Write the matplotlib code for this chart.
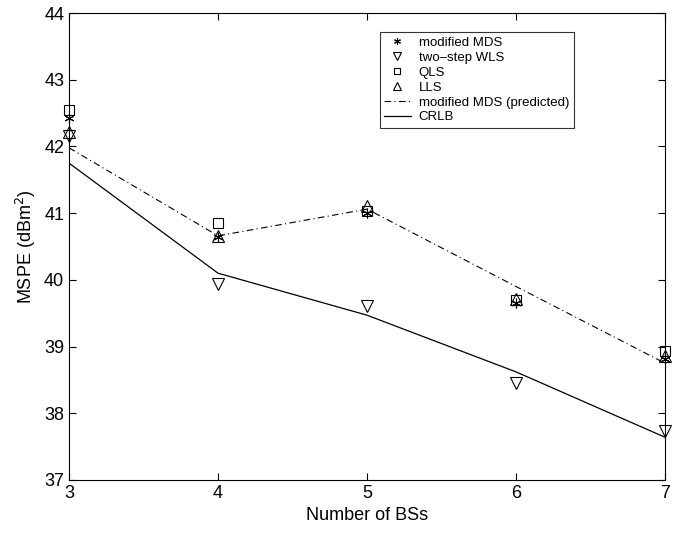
import matplotlib
matplotlib.use("Agg")
import matplotlib.pyplot as plt

plt.rcParams["font.family"] = ["Liberation Sans", "DejaVu Sans"]

# ── Data ─────────────────────────────────────────────
n_bs = [3, 4, 5, 6, 7]
mds = [42.42, 40.65, 41.00, 39.65, 38.82]
wls = [42.15, 39.94, 39.61, 38.46, 37.73]
qls = [42.54, 40.85, 41.03, 39.70, 38.93]
lls = [42.22, 40.66, 41.11, 39.72, 38.86]
mds_pred = [41.98, 40.66, 41.06, 39.90, 38.75]
crlb = [41.75, 40.10, 39.47, 38.62, 37.64]

fig = plt.figure(figsize=(6.95, 5.36), dpi=100)
ax = fig.add_axes([0.0993, 0.1045, 0.8577, 0.8712])

mk = dict(linestyle="none", mec="black", mew=0.8, clip_on=False, zorder=3)
ax.plot(n_bs, mds, marker=(6, 2, 0), ms=7, color="black",
        label="modified MDS", **mk)
ax.plot(n_bs, wls, marker="v", ms=8, mfc="none", label="two\u2013step WLS", **mk)
ax.plot(n_bs, qls, marker="s", ms=6.5, mfc="none", label="QLS", **mk)
ax.plot(n_bs, lls, marker="^", ms=8, mfc="none", label="LLS", **mk)
ax.plot(n_bs, mds_pred, color="black", lw=0.8, linestyle=(0, (6, 3, 1, 3)),
        label="modified MDS (predicted)")
ax.plot(n_bs, crlb, color="black", lw=0.9, label="CRLB")

ax.set_xlim(3, 7)
ax.set_ylim(37, 44)
ax.set_xticks(n_bs)
ax.set_yticks(range(37, 45))
ax.tick_params(direction="in", top=True, right=True, labelsize=13, length=5)
for s in ax.spines.values():
    s.set_linewidth(0.8)

ax.set_xlabel("Number of BSs", fontsize=13)
ax.set_ylabel("MSPE (dBm$^2$)", fontsize=13)

leg = ax.legend(loc="upper left", bbox_to_anchor=(0.51, 0.973), fontsize=9.5,
                frameon=True, fancybox=False, edgecolor="black",
                handlelength=2.0, borderpad=0.35, labelspacing=0.2,
                handletextpad=0.6, markerscale=0.7)
leg.get_frame().set_linewidth(0.8)

fig.savefig("out.png", dpi=100)
